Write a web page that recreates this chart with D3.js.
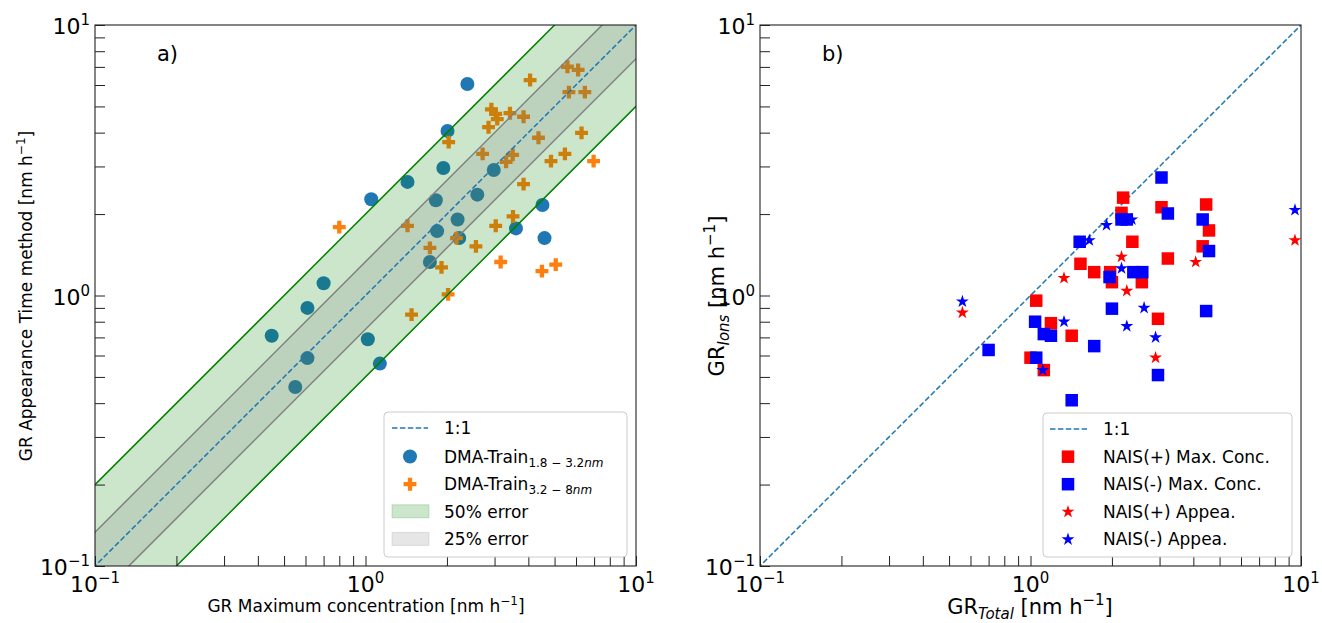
<!DOCTYPE html>
<html lang="en">
<head>
<meta charset="UTF-8">
<title>GR comparison</title>
<script src="https://d3js.org/d3.v7.min.js"></script>
<style>
  body { margin: 0; background: #fff; }
  svg text { font-family: "DejaVu Sans", sans-serif; fill: #000; }
</style>
</head>
<body>
<svg id="fig" width="1322" height="623"></svg>
<script>
// ---- panel a: DMA-Train GR, max concentration vs appearance time ----
const dmaSmallX = [2.38, 2.01, 1.05, 1.43, 1.94, 2.98, 2.59, 1.82, 2.19, 1.84, 2.22, 1.73, 3.60, 4.51, 4.59, 0.70, 0.61, 0.45, 0.61, 0.55, 1.02, 1.13];
const dmaSmallY = [6.05, 4.06, 2.27, 2.63, 2.96, 2.91, 2.36, 2.25, 1.91, 1.73, 1.63, 1.33, 1.77, 2.16, 1.63, 1.11, 0.90, 0.71, 0.587, 0.459, 0.689, 0.56];
const dmaLargeX = [5.58, 6.11, 4.06, 5.65, 6.47, 2.92, 3.03, 3.07, 3.42, 3.84, 2.85, 2.03, 6.29, 4.36, 2.71, 3.50, 3.31, 5.46, 4.85, 6.97, 3.84, 1.43, 3.03, 3.51, 2.17, 2.56, 1.73, 1.91, 3.16, 4.49, 5.05, 2.02, 1.48, 0.80];
const dmaLargeY = [7.01, 6.82, 6.26, 5.65, 5.65, 4.88, 4.69, 4.49, 4.72, 4.58, 4.19, 3.69, 3.99, 3.83, 3.34, 3.31, 3.12, 3.34, 3.14, 3.14, 2.58, 1.81, 1.81, 1.96, 1.63, 1.52, 1.50, 1.27, 1.33, 1.23, 1.30, 1.01, 0.85, 1.79];
const band50 = [0.5, 2];        // y = x*0.5 .. x*2
const band25 = [0.75, 1 / 0.75];

// ---- panel b: NAIS GR, total vs ions ----
const posMaxX = [2.20, 3.05, 4.46, 4.57, 4.33, 2.17, 2.38, 3.22, 1.53, 1.72, 1.97, 2.00, 2.58, 1.05, 2.96, 1.42, 1.19, 1.00, 1.12];
const posMaxY = [2.30, 2.12, 2.17, 1.74, 1.52, 2.02, 1.58, 1.37, 1.31, 1.22, 1.22, 1.12, 1.12, 0.957, 0.82, 0.71, 0.79, 0.589, 0.53];
const negMaxX = [3.05, 3.22, 4.33, 4.57, 2.17, 2.27, 1.52, 1.96, 2.40, 2.59, 2.00, 4.46, 1.04, 1.12, 1.19, 1.72, 1.05, 2.96, 1.42, 0.70];
const negMaxY = [2.73, 2.01, 1.91, 1.46, 1.91, 1.91, 1.58, 1.17, 1.22, 1.22, 0.894, 0.876, 0.80, 0.72, 0.71, 0.65, 0.589, 0.508, 0.41, 0.629];
const posAppX = [4.08, 2.17, 1.33, 2.27, 2.90, 0.56, 9.5];
const posAppY = [1.33, 1.39, 1.16, 1.04, 0.589, 0.864, 1.60];
const negAppX = [2.37, 1.91, 1.65, 2.17, 2.63, 2.27, 2.90, 1.33, 1.11, 0.56, 9.5];
const negAppY = [1.91, 1.82, 1.60, 1.26, 0.90, 0.77, 0.70, 0.80, 0.53, 0.95, 2.07];

const decades = [0.1, 1, 10];
const decadeExp = ["\u22121", "0", "1"];

const svg = d3.select("#fig");
const zip = (xs, ys) => xs.map((x, i) => ({x: x, y: ys[i]}));

function makePanel(id, left, right, top, bottom) {
    const x = d3.scaleLog().domain([0.1, 10]).range([left, right]);
    const y = d3.scaleLog().domain([0.1, 10]).range([bottom, top]);
    svg.append("clipPath").attr("id", "clip-" + id)
        .append("rect").attr("x", left).attr("y", top)
        .attr("width", right - left).attr("height", bottom - top);
    const g = svg.append("g");
    const plot = g.append("g").attr("clip-path", `url(#clip-${id})`);
    return {x, y, g, plot, left, right, top, bottom};
}

function drawAxes(p) {
    const ticks = [];
    [0.1, 1].forEach(d => { for (let k = 1; k <= 9; k++) ticks.push(d * k); });
    ticks.push(10);
    const ax = p.g.append("g").attr("transform", `translate(0,${p.bottom})`)
        .call(d3.axisBottom(p.x).tickValues(ticks).tickSizeInner(-10).tickSizeOuter(0).tickFormat(""));
    const ay = p.g.append("g").attr("transform", `translate(${p.left},0)`)
        .call(d3.axisLeft(p.y).tickValues(ticks).tickSizeInner(-10).tickSizeOuter(0).tickFormat(""));
    [ax, ay].forEach(a => {
        a.select(".domain").remove();
        a.selectAll("line").attr("stroke", "#222").attr("stroke-width", 1);
    });
    p.g.append("rect").attr("x", p.left).attr("y", p.top)
        .attr("width", p.right - p.left).attr("height", p.bottom - p.top)
        .attr("fill", "none").attr("stroke", "#222").attr("stroke-width", 1.1);

    decades.forEach((d, i) => {
        const tx = p.g.append("text").attr("x", p.x(d)).attr("y", p.bottom + 26)
            .attr("text-anchor", "middle").attr("font-size", 22);
        tx.append("tspan").text("10");
        tx.append("tspan").attr("dy", -9).attr("font-size", 15).text(decadeExp[i]);
        const ty = p.g.append("text").attr("x", p.left - 5).attr("y", p.y(d) + 9)
            .attr("text-anchor", "end").attr("font-size", 22);
        ty.append("tspan").text("10");
        ty.append("tspan").attr("dy", -9).attr("font-size", 15).text(decadeExp[i]);
    });
}

const unitLine = d3.line().x(d => d[0]).y(d => d[1]);

// ===== panel a =====
const pa = makePanel("a", 95, 636, 25, 566);
const lo = 0.01, hi = 100;

pa.plot.selectAll("circle.small").data(zip(dmaSmallX, dmaSmallY)).join("circle")
    .attr("class", "small").attr("cx", d => pa.x(d.x)).attr("cy", d => pa.y(d.y))
    .attr("r", 7).attr("fill", "#1f77b4");
pa.plot.selectAll("path.large").data(zip(dmaLargeX, dmaLargeY)).join("path")
    .attr("class", "large")
    .attr("d", d3.symbol().type(d3.symbolCross).size(92))
    .attr("transform", d => `translate(${pa.x(d.x)},${pa.y(d.y)})`)
    .attr("fill", "#ff7f0e");

function bandPoly(p, f) {
    return [[p.x(lo), p.y(lo * f[1])], [p.x(hi), p.y(hi * f[1])],
            [p.x(hi), p.y(hi * f[0])], [p.x(lo), p.y(lo * f[0])]];
}
pa.plot.append("path").attr("d", unitLine(bandPoly(pa, band50)) + "Z")
    .attr("fill", "green").attr("fill-opacity", 0.2);
pa.plot.append("path").attr("d", unitLine(bandPoly(pa, band25)) + "Z")
    .attr("fill", "gray").attr("fill-opacity", 0.2);
band25.forEach(f => pa.plot.append("path")
    .attr("d", unitLine([[pa.x(lo), pa.y(lo * f)], [pa.x(hi), pa.y(hi * f)]]))
    .attr("stroke", "#808080").attr("stroke-width", 1.5).attr("fill", "none"));
band50.forEach(f => pa.plot.append("path")
    .attr("d", unitLine([[pa.x(lo), pa.y(lo * f)], [pa.x(hi), pa.y(hi * f)]]))
    .attr("stroke", "green").attr("stroke-width", 1.5).attr("fill", "none"));
pa.plot.append("path")
    .attr("d", unitLine([[pa.x(lo), pa.y(lo)], [pa.x(hi), pa.y(hi)]]))
    .attr("stroke", "#1f77b4").attr("stroke-width", 1.5).attr("stroke-dasharray", "5.5,2.4").attr("fill", "none");

drawAxes(pa);

pa.g.append("text").attr("x", 157).attr("y", 61).attr("font-size", 21).text("a)");

pa.g.append("text").attr("x", 366).attr("y", 612).attr("text-anchor", "middle").attr("font-size", 17)
    .call(t => {
        t.append("tspan").text("GR Maximum concentration [nm h");
        t.append("tspan").attr("dy", -7).attr("font-size", 12).text("\u22121");
        t.append("tspan").attr("dy", 7).text("]");
    });
pa.g.append("text").attr("transform", "translate(32,296) rotate(-90)").attr("text-anchor", "middle").attr("font-size", 17)
    .call(t => {
        t.append("tspan").text("GR Appearance Time method [nm h");
        t.append("tspan").attr("dy", -7).attr("font-size", 12).text("\u22121");
        t.append("tspan").attr("dy", 7).text("]");
    });

// legend a
const la = pa.g.append("g");
la.append("rect").attr("x", 384).attr("y", 412).attr("width", 243).attr("height", 145).attr("rx", 4)
    .attr("fill", "#fff").attr("fill-opacity", 0.8).attr("stroke", "#ccc");
const laY = [428, 456.5, 484.2, 511.8, 539.4];
la.append("line").attr("x1", 392).attr("x2", 428).attr("y1", laY[0]).attr("y2", laY[0])
    .attr("stroke", "#1f77b4").attr("stroke-width", 1.5).attr("stroke-dasharray", "5.5,2.4");
la.append("circle").attr("cx", 410).attr("cy", laY[1]).attr("r", 7).attr("fill", "#1f77b4");
la.append("path").attr("d", d3.symbol().type(d3.symbolCross).size(92)())
    .attr("transform", `translate(410,${laY[2]})`).attr("fill", "#ff7f0e");
la.append("rect").attr("x", 392).attr("y", laY[3] - 7).attr("width", 37).attr("height", 13)
    .attr("fill", "green").attr("fill-opacity", 0.2).attr("stroke", "green").attr("stroke-opacity", 0.2);
la.append("rect").attr("x", 392).attr("y", laY[4] - 7).attr("width", 37).attr("height", 13)
    .attr("fill", "gray").attr("fill-opacity", 0.2).attr("stroke", "gray").attr("stroke-opacity", 0.2);
const laText = (i) => la.append("text").attr("x", 444).attr("y", laY[i] + 6).attr("font-size", 17);
laText(0).text("1:1");
[["1.8 \u2212 3.2", 1], ["3.2 \u2212 8", 2]].forEach(([sub, i]) => {
    const t = laText(i);
    t.append("tspan").text("DMA-Train");
    t.append("tspan").attr("dy", 4).attr("font-size", 12).text(sub);
    t.append("tspan").attr("font-size", 12).attr("font-style", "italic").text("nm");
});
laText(3).text("50% error");
laText(4).text("25% error");

// ===== panel b =====
const pb = makePanel("b", 760, 1301, 25, 566);
pb.plot.append("path")
    .attr("d", unitLine([[pb.x(lo), pb.y(lo)], [pb.x(hi), pb.y(hi)]]))
    .attr("stroke", "#1f77b4").attr("stroke-width", 1.5).attr("stroke-dasharray", "5.5,2.4").attr("fill", "none");

const sq = 12.5;
pb.plot.selectAll("rect.pos").data(zip(posMaxX, posMaxY)).join("rect")
    .attr("class", "pos").attr("x", d => pb.x(d.x) - sq / 2).attr("y", d => pb.y(d.y) - sq / 2)
    .attr("width", sq).attr("height", sq).attr("fill", "red");
pb.plot.selectAll("rect.neg").data(zip(negMaxX, negMaxY)).join("rect")
    .attr("class", "neg").attr("x", d => pb.x(d.x) - sq / 2).attr("y", d => pb.y(d.y) - sq / 2)
    .attr("width", sq).attr("height", sq).attr("fill", "blue");
const star = d3.symbol().type(d3.symbolStar).size(52);
pb.plot.selectAll("path.pstar").data(zip(posAppX, posAppY)).join("path")
    .attr("class", "pstar").attr("d", star)
    .attr("transform", d => `translate(${pb.x(d.x)},${pb.y(d.y)})`).attr("fill", "red");
pb.plot.selectAll("path.nstar").data(zip(negAppX, negAppY)).join("path")
    .attr("class", "nstar").attr("d", star)
    .attr("transform", d => `translate(${pb.x(d.x)},${pb.y(d.y)})`).attr("fill", "blue");

drawAxes(pb);

pb.g.append("text").attr("x", 822).attr("y", 61).attr("font-size", 21).text("b)");

pb.g.append("text").attr("x", 1030).attr("y", 614).attr("text-anchor", "middle").attr("font-size", 21)
    .call(t => {
        t.append("tspan").text("GR");
        t.append("tspan").attr("dy", 5).attr("font-size", 15).attr("font-style", "italic").text("Total");
        t.append("tspan").attr("dy", -5).text(" [nm h");
        t.append("tspan").attr("dy", -9).attr("font-size", 15).text("\u22121");
        t.append("tspan").attr("dy", 9).text("]");
    });
pb.g.append("text").attr("transform", "translate(724,296) rotate(-90)").attr("text-anchor", "middle").attr("font-size", 21)
    .call(t => {
        t.append("tspan").text("GR");
        t.append("tspan").attr("dy", 5).attr("font-size", 15).attr("font-style", "italic").text("Ions");
        t.append("tspan").attr("dy", -5).text(" [nm h");
        t.append("tspan").attr("dy", -9).attr("font-size", 15).text("\u22121");
        t.append("tspan").attr("dy", 9).text("]");
    });

// legend b
const lb = pb.g.append("g");
lb.append("rect").attr("x", 1043).attr("y", 413).attr("width", 249).attr("height", 144).attr("rx", 4)
    .attr("fill", "#fff").attr("fill-opacity", 0.8).attr("stroke", "#ccc");
const lbY = [429, 456.7, 484.2, 511.8, 539.4];
lb.append("line").attr("x1", 1050).attr("x2", 1087).attr("y1", lbY[0]).attr("y2", lbY[0])
    .attr("stroke", "#1f77b4").attr("stroke-width", 1.5).attr("stroke-dasharray", "5.5,2.4");
lb.append("rect").attr("x", 1068 - sq / 2).attr("y", lbY[1] - sq / 2).attr("width", sq).attr("height", sq).attr("fill", "red");
lb.append("rect").attr("x", 1068 - sq / 2).attr("y", lbY[2] - sq / 2).attr("width", sq).attr("height", sq).attr("fill", "blue");
lb.append("path").attr("d", star()).attr("transform", `translate(1068,${lbY[3]})`).attr("fill", "red");
lb.append("path").attr("d", star()).attr("transform", `translate(1068,${lbY[4]})`).attr("fill", "blue");
["1:1", "NAIS(+) Max. Conc.", "NAIS(-) Max. Conc.", "NAIS(+) Appea.", "NAIS(-) Appea."].forEach((s, i) =>
    lb.append("text").attr("x", 1103).attr("y", lbY[i] + 6).attr("font-size", 17).text(s));
</script>
</body>
</html>
